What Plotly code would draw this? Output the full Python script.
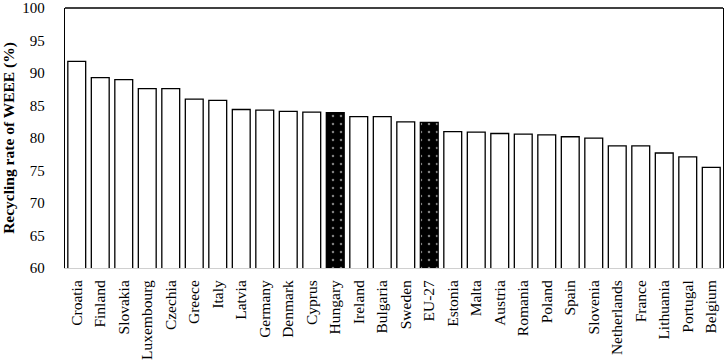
import plotly.graph_objects as go

countries = ["Croatia", "Finland", "Slovakia", "Luxembourg", "Czechia", "Greece", "Italy",
             "Latvia", "Germany", "Denmark", "Cyprus", "Hungary", "Ireland", "Bulgaria",
             "Sweden", "EU-27", "Estonia", "Malta", "Austria", "Romania", "Poland", "Spain",
             "Slovenia", "Netherlands", "France", "Lithuania", "Portugal", "Belgium"]
rates = [91.8, 89.3, 89.0, 87.6, 87.6, 86.0, 85.8, 84.4, 84.3, 84.1, 84.0, 83.9, 83.3, 83.3,
         82.5, 82.4, 81.0, 80.9, 80.7, 80.6, 80.5, 80.2, 80.0, 78.8, 78.8, 77.7, 77.1, 75.5]
highlight = ["Hungary", "EU-27"]
yticks = [60, 65, 70, 75, 80, 85, 90, 95, 100]

font_family = "Liberation Serif"

colors = ["black" if c in highlight else "white" for c in countries]
shapes = ["." if c in highlight else "" for c in countries]

fig = go.Figure()
fig.add_trace(go.Bar(
    x=countries, y=rates,
    marker=dict(
        color=colors,
        line=dict(color="black", width=1.3),
        pattern=dict(shape=shapes, fgcolor="white", bgcolor="black", size=8,
                     solidity=0.08, fillmode="overlay"),
    ),
))

fig.update_layout(
    width=725, height=362,
    margin=dict(l=65, r=2, t=8, b=94),
    plot_bgcolor="white", paper_bgcolor="white",
    bargap=0.24,
    showlegend=False,
    font=dict(family=font_family, color="black", size=15),
    xaxis=dict(
        tickangle=-90, showgrid=False, showline=True, linecolor="#d0d0d0", linewidth=1,
        ticks="", tickfont=dict(size=15.5, family=font_family), ticklabelstandoff=5,
        automargin=False,
    ),
    yaxis=dict(
        range=[60, 100.02], tickvals=yticks, showgrid=False, showline=True, linecolor="black",
        linewidth=1.3, mirror=True, ticks="", zeroline=False, ticklabeloverflow="allow",
        tickfont=dict(size=15, family=font_family), ticklabelstandoff=16, automargin=False,
        title=dict(text="<b>Recycling rate of WEEE (%)</b>", font=dict(size=15.5, family=font_family),
                   standoff=11),
    ),
    shapes=[dict(type="line", xref="paper", yref="paper", x0=0, x1=1, y0=1, y1=1,
                 line=dict(color="black", width=1.3))],
)

fig.write_html("out.html", config={"displayModeBar": False},
               post_script="document.body.style.margin='0';")
